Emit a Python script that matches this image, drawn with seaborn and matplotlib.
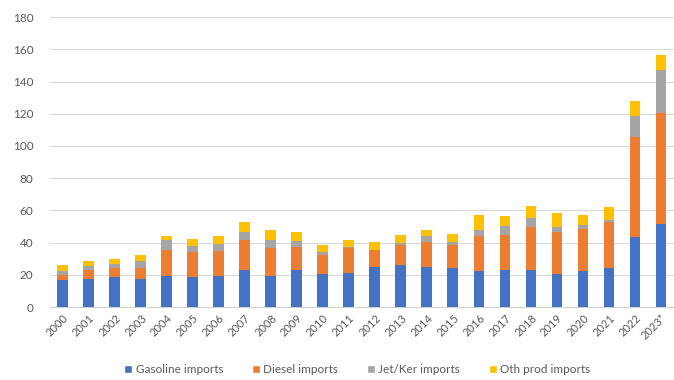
import pandas as pd
import numpy as np
import matplotlib.pyplot as plt
import seaborn as sns
from matplotlib.patches import Patch

# Werte (geschätzt)
years = ['2000', '2001', '2002', '2003', '2004', '2005', '2006', '2007', '2008', '2009',
         '2010', '2011', '2012', '2013', '2014', '2015', '2016', '2017', '2018', '2019',
         '2020', '2021', '2022', '2023*']
gasoline = [17.0, 17.6, 18.6, 17.6, 19.4, 18.6, 19.4, 23.2, 19.4, 23.2,
            20.7, 21.3, 24.8, 25.9, 24.8, 24.2, 22.3, 23.2, 23.2, 20.5,
            22.3, 24.0, 43.7, 51.7]
diesel = [2.7, 5.6, 5.4, 6.4, 16.2, 15.3, 15.4, 18.2, 17.4, 14.0,
          11.4, 15.5, 10.4, 12.4, 15.3, 14.1, 21.6, 21.7, 26.3, 26.1,
          25.9, 28.8, 61.6, 68.7]
jet = [2.7, 2.5, 2.9, 4.3, 6.2, 4.0, 4.5, 4.9, 5.0, 3.8,
       1.8, 0.4, 0.4, 1.6, 3.8, 1.8, 4.1, 5.2, 6.0, 3.1,
       2.9, 1.0, 13.3, 26.5]
other = [3.5, 3.1, 2.7, 4.0, 2.3, 4.1, 4.6, 6.7, 5.8, 5.6,
         4.8, 4.2, 4.5, 5.0, 3.7, 5.4, 9.3, 6.2, 7.2, 8.6,
         6.2, 8.1, 9.1, 9.3]

labels = ['Gasoline imports', 'Diesel imports', 'Jet/Ker imports', 'Oth prod imports']
colors = ['#4472C4', '#ED7D31', '#A5A5A5', '#FFC000']

df = pd.DataFrame({'Year': years, 'Gasoline': gasoline, 'Diesel': diesel,
                   'Jet': jet, 'Other': other})
# kumulierte Summen fürs Stapeln
df['c1'] = df['Gasoline']
df['c2'] = df['c1'] + df['Diesel']
df['c3'] = df['c2'] + df['Jet']
df['c4'] = df['c3'] + df['Other']

sns.set_style('white')
plt.rcParams['font.family'] = ['Lato', 'DejaVu Sans']

fig = plt.figure(figsize=(6.74, 3.8), dpi=100)
ax = fig.add_axes([0.074, 0.192, 0.926, 0.763])

# größte Summe zuerst, dann überdecken
for col, c in zip(['c4', 'c3', 'c2', 'c1'], colors[::-1]):
    sns.barplot(data=df, x='Year', y=col, color=c, width=0.42, ax=ax,
                saturation=1, order=years, linewidth=0, zorder=3)

ax.set_ylim(0, 180)
ax.set_yticks(range(0, 181, 20))
ax.set_xlim(-0.5, len(years) - 0.5)
ax.yaxis.grid(True, color='#d9d9d9', linewidth=0.8, zorder=0)
ax.set_axisbelow(True)
for s in ['top', 'right', 'left']:
    ax.spines[s].set_visible(False)
ax.spines['bottom'].set_color('#d0d0d0')
ax.set_xlabel('')
ax.set_ylabel('')
ax.tick_params(axis='y', length=0, labelsize=8.5, labelcolor='#595959', pad=12)
ax.tick_params(axis='x', which='major', length=0, labelsize=8, labelcolor='#595959', pad=4)
ax.set_xticks(np.arange(len(years) + 1) - 0.5, minor=True)
ax.tick_params(axis='x', which='minor', length=3, color='#d0d0d0')
plt.setp(ax.get_xticklabels(), rotation=45, ha='right', rotation_mode='anchor')

handles = [Patch(facecolor=c, label=l) for c, l in zip(colors, labels)]
fig.legend(handles=handles, loc='lower center', bbox_to_anchor=(0.53, -0.015), ncol=4,
           frameon=False, fontsize=8.5, handlelength=0.7, handleheight=0.7,
           handletextpad=0.3, columnspacing=2.4, labelcolor='#595959')

fig.savefig('out.png', dpi=100)
